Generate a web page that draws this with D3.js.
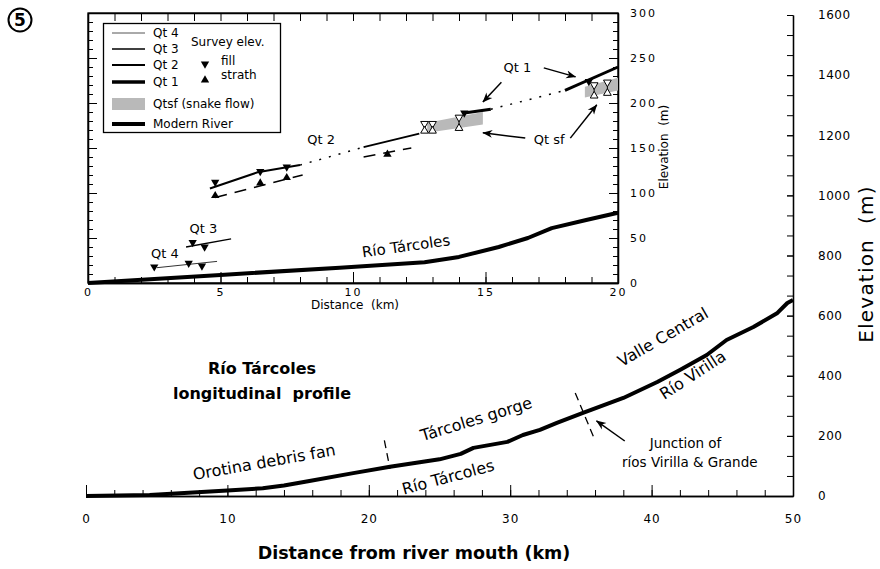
<!DOCTYPE html>
<html>
<head>
<meta charset="utf-8">
<script src="https://cdn.jsdelivr.net/npm/d3@7"></script>
<style>
  body { margin: 0; background: #fff; }
  svg { font-family: "DejaVu Sans", Verdana, sans-serif; }
</style>
</head>
<body>
<svg id="chart" width="880" height="569"></svg>
<script>
// ---- main profile: distance from mouth (km), elevation (m)
const mainRiver = [[0,0],[4.5,3],[10,18],[12.5,26],[14,35],[15.8,50],[18.9,76],[21.5,97],[25,122],
  [26.5,140],[27.4,160],[29.8,180],[30.9,203],[32.1,220],[33.3,243],[35.1,276],[38,326],[40.4,379],
  [42,419],[43.9,469],[45.3,519],[47.2,562],[48.9,609],[49.6,642],[50,652]];
const mainKmTicks = [0, 10, 20, 30, 40, 50];
const mainElevTicks = [0, 200, 400, 600, 800, 1000, 1200, 1400, 1600];
const reachBreaks = [[[21.1,185],[21.5,90]], [[34.6,343],[35.9,196]]];

// ---- inset: first 20 km
const insetRiver = [[0,0],[5,9],[9.5,17],[12.7,23],[14,29],[15.5,40],[16.6,50],[17.5,61],[18.8,70],[20,78]];
const insetKmTicks = [0, 5, 10, 15, 20];
const insetElevTicks = [0, 50, 100, 150, 200, 250, 300];

const qt4 = [[[2.6,17],[4.87,24]]];
const qt3 = [[[3.7,40],[5.4,49]]];
const qt2 = [[[4.6,105],[6.4,123],[8.0,131]], [[10.4,151],[12.5,166]]];
const qt2Gap = [[8.0,131],[10.4,151]];
const qt2Strath = [[[4.8,95],[8.1,120]], [[10.4,140],[12.2,150]]];
const qt1 = [[[14.2,189],[15.2,193]], [[18.0,214],[20,240]]];
const qt1Gap = [[15.2,193],[18.0,214]];
// snake flow bands: [km, bottom m, top m]
const snakeFlow = [[[12.8,167,178],[14.9,176,190]], [[18.75,206,218],[20,214,228]]];

const fillPts = [[2.5,18],[3.8,22],[4.3,19],[3.95,45],[4.4,40],[4.8,112],[6.5,124],[7.5,129],[14.2,189],[18.9,224]];
const strathPts = [[4.8,97],[6.5,111],[7.5,117],[11.3,143]];
// paired survey sites: [km, strath m, fill m]
const pairedPts = [[12.7,169,177],[13.0,169,177],[14.0,172,184],[19.1,208,220],[19.6,211,223]];

const svg = d3.select("#chart");

const defs = svg.append("defs");
defs.append("marker").attr("id", "arrow")
  .attr("viewBox", "0 0 10 10").attr("refX", 9.5).attr("refY", 5)
  .attr("markerWidth", 10).attr("markerHeight", 10)
  .attr("markerUnits", "userSpaceOnUse").attr("orient", "auto")
  .append("path").attr("d", "M0,1 L10,5 L0,9 L3,5 Z").attr("fill", "#000");

function styleAxis(g, fs, ls) {
  g.attr("font-family", null).attr("font-size", fs);
  g.selectAll("text").attr("fill", "#000").style("letter-spacing", ls + "px");
  g.selectAll("line").attr("stroke", "#000");
  g.select(".domain").attr("stroke", "#000").attr("stroke-width", 1.3);
}

// ================= main profile =================
const mx = d3.scaleLinear().domain([0, 50]).range([86, 793]);
const my = d3.scaleLinear().domain([0, 1600]).range([496, 15]);

svg.append("g").attr("transform", `translate(0,${my(0)})`)
  .call(d3.axisBottom(mx).tickValues(d3.range(0, 51, 2)).tickSize(-6).tickSizeOuter(0).tickFormat(""))
  .call(g => styleAxis(g, 12, 1));
svg.append("g").attr("transform", `translate(0,${my(0)})`)
  .call(d3.axisBottom(mx).tickValues(mainKmTicks).tickSize(-11).tickSizeOuter(0).tickPadding(18))
  .call(g => styleAxis(g, 12, 1));

svg.append("g").attr("transform", `translate(${mx(50)},0)`)
  .call(d3.axisRight(my).tickValues(d3.range(25).map(i => i * 200 / 3)).tickSize(-6).tickSizeOuter(0).tickFormat(""))
  .call(g => styleAxis(g, 12, 1));
svg.append("g").attr("transform", `translate(${mx(50)},0)`)
  .call(d3.axisRight(my).tickValues(mainElevTicks).tickSize(-6).tickSizeOuter(0).tickPadding(25).tickFormat(d3.format("d")))
  .call(g => styleAxis(g, 12, 0.5));

const mline = d3.line().x(d => mx(d[0])).y(d => my(d[1]));
svg.append("path").datum(mainRiver).attr("d", mline)
  .attr("fill", "none").attr("stroke", "#000").attr("stroke-width", 4).attr("stroke-linejoin", "round");

svg.selectAll(".break").data(reachBreaks).join("path").attr("class", "break")
  .attr("d", mline).attr("stroke", "#000").attr("stroke-width", 1.3).attr("stroke-dasharray", "8,5");

const mainNotes = [
  {t: "Valle Central", km: 40.8, m: 529, a: -30, fs: 16},
  {t: "Río Virilla", km: 42.9, m: 403, a: -33, fs: 16},
  {t: "Tárcoles gorge", km: 27.6, m: 256, a: -17, fs: 16},
  {t: "Orotina debris fan", km: 12.6, m: 113, a: -10, fs: 16},
  {t: "Río Tárcoles", km: 25.6, m: 63, a: -15, fs: 16},
  {t: "Junction of", km: 42.4, m: 176, a: 0, fs: 13.5},
  {t: "ríos Virilla & Grande", km: 42.7, m: 113, a: 0, fs: 13.5}
];
svg.selectAll(".mnote").data(mainNotes).join("text").attr("class", "mnote")
  .attr("transform", d => `translate(${mx(d.km)},${my(d.m)}) rotate(${d.a})`)
  .attr("text-anchor", "middle").attr("dy", "0.35em")
  .attr("font-size", d => d.fs).text(d => d.t);

svg.append("path").datum([[38.1,183],[36.1,250]]).attr("d", mline)
  .attr("stroke", "#000").attr("stroke-width", 1.5).attr("marker-end", "url(#arrow)");

svg.append("text").attr("x", 262).attr("y", 374).attr("text-anchor", "middle")
  .attr("font-size", 16).attr("font-weight", "bold").text("Río Tárcoles");
svg.append("text").attr("x", 262).attr("y", 399).attr("text-anchor", "middle")
  .attr("font-size", 16).attr("font-weight", "bold").attr("xml:space", "preserve").text("longitudinal  profile");

svg.append("text").attr("x", 414).attr("y", 559).attr("text-anchor", "middle")
  .attr("font-size", 17.5).attr("font-weight", "bold").text("Distance from river mouth (km)");
svg.append("text").attr("transform", "translate(866,264) rotate(-90)").attr("text-anchor", "middle")
  .attr("dy", "0.35em").attr("font-size", 20).style("letter-spacing", "1.2px")
  .attr("xml:space", "preserve").text("Elevation  (m)");

// panel number
svg.append("circle").attr("cx", 20).attr("cy", 20).attr("r", 11.5)
  .attr("fill", "none").attr("stroke", "#000").attr("stroke-width", 2);
svg.append("text").attr("x", 20).attr("y", 20).attr("dy", "0.36em").attr("text-anchor", "middle")
  .attr("font-size", 17).attr("font-weight", "bold").text("5");

// ================= inset =================
const ix = d3.scaleLinear().domain([0, 20]).range([88, 618]);
const iy = d3.scaleLinear().domain([0, 300]).range([283, 13]);
const iline = d3.line().x(d => ix(d[0])).y(d => iy(d[1]));

svg.append("rect").attr("x", ix(0)).attr("y", iy(300)).attr("width", ix(20) - ix(0)).attr("height", iy(0) - iy(300))
  .attr("fill", "#fff").attr("stroke", "#000").attr("stroke-width", 1.3);

const kmMinor = d3.range(0, 21, 1);
const mMinor = d3.range(0, 301, 10);
svg.append("g").attr("transform", `translate(0,${iy(0)})`)
  .call(d3.axisBottom(ix).tickValues(kmMinor).tickSize(-6).tickSizeOuter(0).tickFormat(""))
  .call(g => styleAxis(g, 11, 1));
svg.append("g").attr("transform", `translate(0,${iy(0)})`)
  .call(d3.axisBottom(ix).tickValues(insetKmTicks).tickSize(-11).tickSizeOuter(0).tickPadding(5))
  .call(g => styleAxis(g, 11, 2));
svg.append("g").attr("transform", `translate(0,${iy(300)})`)
  .call(d3.axisTop(ix).tickValues(kmMinor).tickSize(-8).tickSizeOuter(0).tickFormat(""))
  .call(g => styleAxis(g, 11, 1));
svg.append("g").attr("transform", `translate(${ix(0)},0)`)
  .call(d3.axisLeft(iy).tickValues(mMinor).tickSize(-5).tickSizeOuter(0).tickFormat(""))
  .call(g => styleAxis(g, 11, 1));
svg.append("g").attr("transform", `translate(${ix(0)},0)`)
  .call(d3.axisLeft(iy).tickValues(insetElevTicks).tickSize(-9).tickSizeOuter(0).tickFormat(""))
  .call(g => styleAxis(g, 11, 1));
svg.append("g").attr("transform", `translate(${ix(20)},0)`)
  .call(d3.axisRight(iy).tickValues(mMinor).tickSize(-5).tickSizeOuter(0).tickFormat(""))
  .call(g => styleAxis(g, 11, 1));
svg.append("g").attr("transform", `translate(${ix(20)},0)`)
  .call(d3.axisRight(iy).tickValues(insetElevTicks).tickSize(-9).tickSizeOuter(0).tickPadding(12))
  .call(g => styleAxis(g, 11, 2));

svg.append("text").attr("x", 355).attr("y", 305).attr("dy", "0.35em").attr("text-anchor", "middle")
  .attr("font-size", 12).attr("xml:space", "preserve").text("Distance  (km)");
svg.append("text").attr("transform", "translate(664,147) rotate(-90)").attr("text-anchor", "middle")
  .attr("dy", "0.35em").attr("font-size", 12).attr("xml:space", "preserve").text("Elevation  (m)");

// snake flow deposits
const band = d3.area().x(d => ix(d[0])).y0(d => iy(d[1])).y1(d => iy(d[2]));
svg.selectAll(".sf").data(snakeFlow).join("path").attr("class", "sf")
  .attr("d", band).attr("fill", "#b9b9b9");

// modern river
svg.append("path").datum(insetRiver).attr("d", iline)
  .attr("fill", "none").attr("stroke", "#000").attr("stroke-width", 4).attr("stroke-linejoin", "round");

// terrace treads
function terr(data, w, dash, color) {
  svg.append("g").selectAll("path").data(data).join("path")
    .attr("d", iline).attr("fill", "none").attr("stroke", color || "#000")
    .attr("stroke-width", w).attr("stroke-dasharray", dash || null);
}
terr(qt4, 1, null, "#333");
terr(qt3, 1.3);
terr(qt2, 2);
terr([qt2Gap], 1.5, "2,8");
terr(qt2Strath, 1.5, "12,8");
terr(qt1, 3);
terr([qt1Gap], 1.5, "2,8");

const tri = d3.symbol().type(d3.symbolTriangle).size(30);
svg.selectAll(".fill").data(fillPts).join("path").attr("class", "fill")
  .attr("d", tri).attr("transform", d => `translate(${ix(d[0])},${iy(d[1])}) rotate(180)`);
svg.selectAll(".strath").data(strathPts).join("path").attr("class", "strath")
  .attr("d", tri).attr("transform", d => `translate(${ix(d[0])},${iy(d[1])})`);

const pair = svg.selectAll(".pair").data(pairedPts).join("g").attr("class", "pair");
pair.append("line").attr("x1", d => ix(d[0])).attr("x2", d => ix(d[0]))
  .attr("y1", d => iy(d[1])).attr("y2", d => iy(d[2])).attr("stroke", "#000");
pair.append("path").attr("d", d3.symbol().type(d3.symbolTriangle).size(26))
  .attr("transform", d => `translate(${ix(d[0])},${iy(d[2])}) rotate(180)`)
  .attr("fill", "#fff").attr("stroke", "#000").attr("stroke-width", 1);
pair.append("path").attr("d", d3.symbol().type(d3.symbolTriangle).size(26))
  .attr("transform", d => `translate(${ix(d[0])},${iy(d[1])})`)
  .attr("fill", "#fff").attr("stroke", "#000").attr("stroke-width", 1);

const insetNotes = [
  {t: "Qt 4", km: 2.9, m: 33, a: 0, fs: 13},
  {t: "Qt 3", km: 4.35, m: 61, a: 0, fs: 13},
  {t: "Qt 2", km: 8.8, m: 160, a: 0, fs: 13},
  {t: "Qt 1", km: 16.2, m: 239, a: 0, fs: 13},
  {t: "Qt sf", km: 17.4, m: 159, a: 0, fs: 13},
  {t: "Río Tárcoles", km: 12.0, m: 41, a: -8, fs: 15}
];
svg.selectAll(".inote").data(insetNotes).join("text").attr("class", "inote")
  .attr("transform", d => `translate(${ix(d.km)},${iy(d.m)}) rotate(${d.a})`)
  .attr("text-anchor", "middle").attr("dy", "0.35em")
  .attr("font-size", d => d.fs).text(d => d.t);

const insetArrows = [
  [[17.2,239],[18.4,229]], [[15.6,223],[14.9,201]],
  [[16.5,161],[14.9,167]], [[18.2,161],[19.2,198]]
];
svg.selectAll(".iarrow").data(insetArrows).join("path").attr("class", "iarrow")
  .attr("d", iline).attr("stroke", "#000").attr("stroke-width", 1.5).attr("marker-end", "url(#arrow)");

// legend
const lg = svg.append("g").attr("font-size", 12);
lg.append("rect").attr("x", 103.5).attr("y", 23.5).attr("width", 177).attr("height", 109)
  .attr("fill", "#fff").attr("stroke", "#000").attr("stroke-width", 1.3);
const legendLines = [
  {t: "Qt 4", y: 33, w: 1, c: "#555"},
  {t: "Qt 3", y: 49, w: 1.3, c: "#000"},
  {t: "Qt 2", y: 65, w: 2, c: "#000"},
  {t: "Qt 1", y: 82, w: 3.5, c: "#000"},
  {t: "Modern River", y: 124, w: 4, c: "#000"}
];
legendLines.forEach(d => {
  lg.append("line").attr("x1", 112).attr("x2", 145).attr("y1", d.y).attr("y2", d.y)
    .attr("stroke", d.c).attr("stroke-width", d.w);
  lg.append("text").attr("x", 153).attr("y", d.y).attr("dy", "0.35em").text(d.t);
});
lg.append("rect").attr("x", 112).attr("y", 98).attr("width", 33).attr("height", 12).attr("fill", "#b9b9b9");
lg.append("text").attr("x", 153).attr("y", 104).attr("dy", "0.35em").text("Qtsf (snake flow)");
lg.append("text").attr("x", 191).attr("y", 42).attr("dy", "0.35em").text("Survey elev.");
lg.append("path").attr("d", tri).attr("transform", "translate(205,64) rotate(180)");
lg.append("text").attr("x", 221).attr("y", 61).attr("dy", "0.35em").text("fill");
lg.append("path").attr("d", tri).attr("transform", "translate(205,80)");
lg.append("text").attr("x", 221).attr("y", 75).attr("dy", "0.35em").text("strath");
</script>
</body>
</html>
